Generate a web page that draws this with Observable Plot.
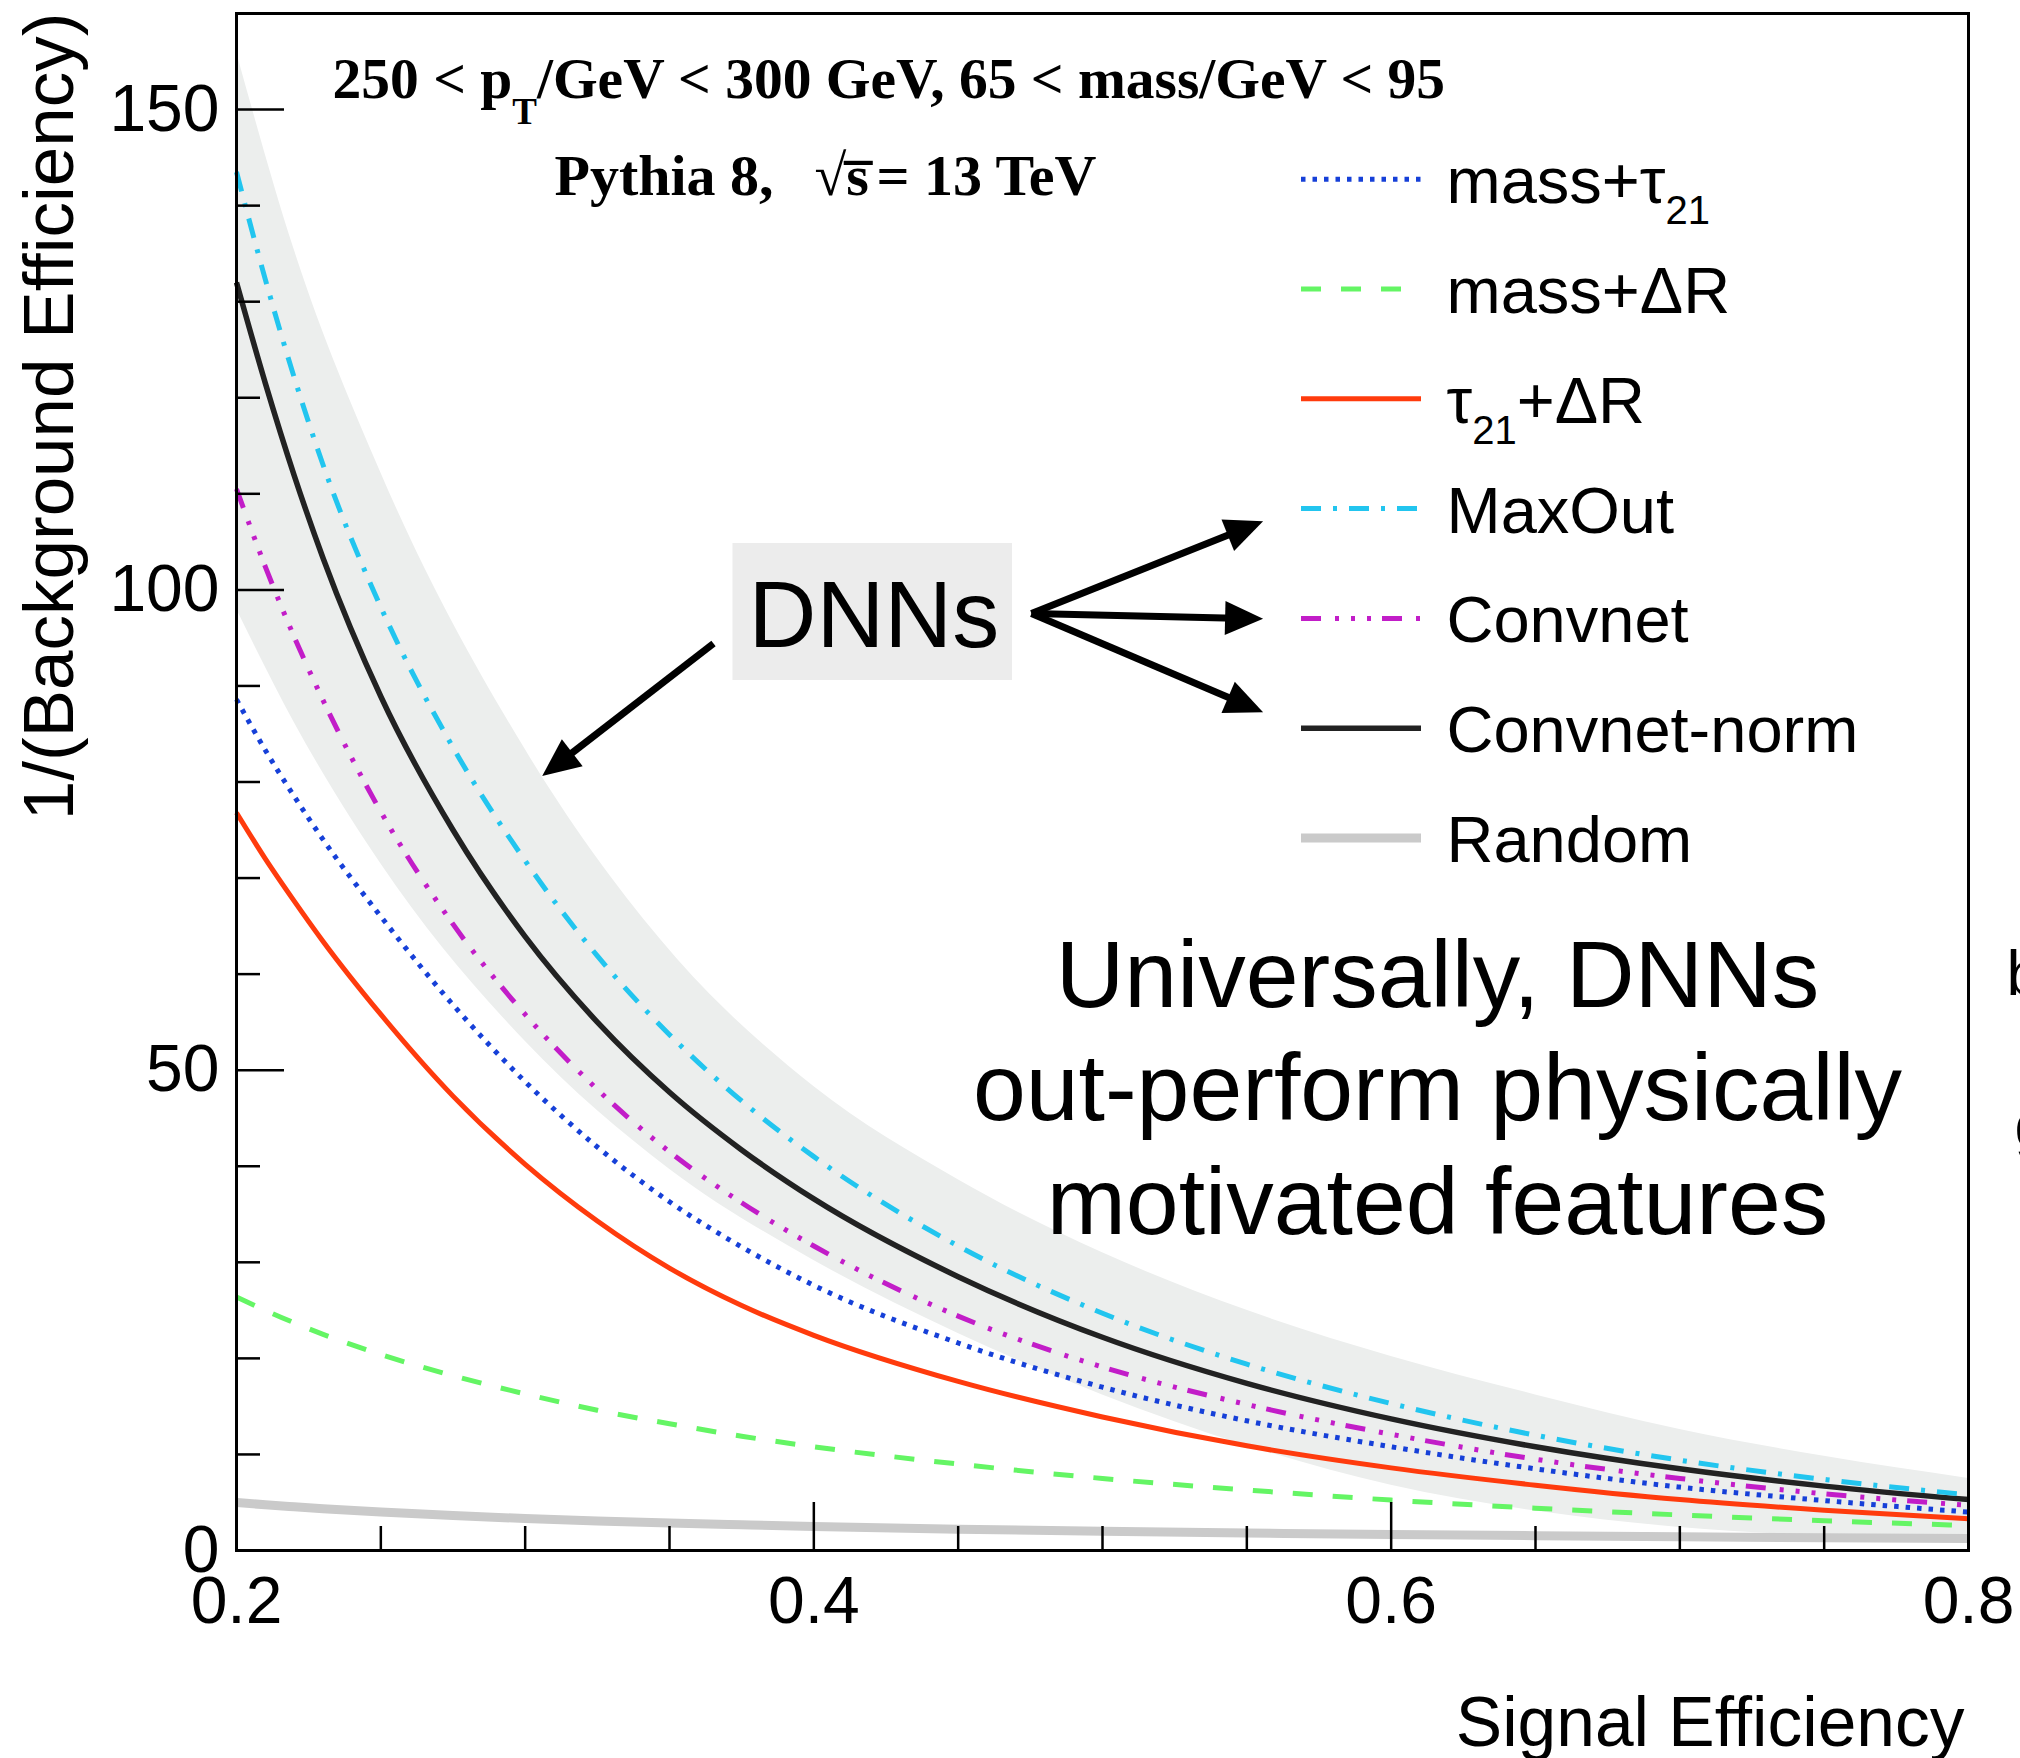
<!DOCTYPE html>
<html>
<head>
<meta charset="utf-8">
<script src="https://cdn.jsdelivr.net/npm/d3@7"></script>
<script src="https://cdn.jsdelivr.net/npm/@observablehq/plot@0.6"></script>
<style>
  html, body { margin: 0; padding: 0; background: #fff; }
  #chart svg { display: block; }
</style>
</head>
<body>
<div id="chart"></div>
<script>
// ---------------- DATA ----------------
const sigEff = [0.2, 0.21, 0.22, 0.23, 0.25, 0.275, 0.3, 0.325, 0.35, 0.375, 0.4, 0.45, 0.5, 0.55, 0.6, 0.65, 0.7, 0.75, 0.8];
const massTau21   = [88.6, 83.3, 78.5, 74.0, 66.0, 56.8, 48.8, 42.0, 36.3, 31.6, 27.6, 21.6, 17.0, 13.5, 10.8, 8.5, 6.6, 5.2, 4.0];
const massDeltaR  = [26.4, 25.0, 23.7, 22.5, 20.4, 18.2, 16.3, 14.6, 13.2, 11.9, 10.8, 9.0, 7.5, 6.3, 5.25, 4.4, 3.7, 3.1, 2.6];
const tau21DeltaR = [76.8, 72.0, 67.6, 63.4, 55.8, 47.3, 40.2, 34.3, 29.4, 25.5, 22.4, 17.6, 13.9, 10.9, 8.6, 6.8, 5.3, 4.2, 3.3];
const maxOut      = [143.5, 132.3, 122.1, 113.0, 98.2, 83.6, 71.8, 61.9, 53.7, 46.8, 41.0, 31.7, 24.7, 19.4, 15.3, 12.0, 9.4, 7.4, 5.8];
const convnet     = [110.5, 102.4, 95.1, 88.5, 76.9, 65.2, 55.8, 48.0, 41.5, 36.2, 31.7, 24.4, 19.1, 15.2, 12.1, 9.5, 7.5, 5.9, 4.7];
const convnetNorm = [132, 121.5, 111.9, 103.3, 88.9, 75.0, 63.9, 55.0, 47.7, 41.7, 36.6, 28.5, 22.2, 17.4, 13.7, 10.8, 8.5, 6.7, 5.3];
const randomTag   = [5.0, 4.76, 4.55, 4.35, 4.0, 3.64, 3.33, 3.08, 2.86, 2.67, 2.5, 2.22, 2.0, 1.82, 1.67, 1.54, 1.43, 1.33, 1.25];

// grey DNN band
const bandX    = [0.2, 0.22, 0.25, 0.3, 0.35, 0.4, 0.45, 0.5, 0.55, 0.6, 0.65, 0.7, 0.75, 0.8];
const bandHigh = [156, 135.4, 112.2, 83.4, 62.5, 48.3, 38.6, 31.0, 25.0, 20.2, 16.2, 12.6, 9.8, 7.5];
const bandLow  = [98, 86.2, 71.5, 53.0, 39.7, 30.2, 22.6, 16.2, 10.9, 6.8, 4.1, 2.4, 1.5, 1.0];

// ticks
const xMajorTicks = [0.2, 0.4, 0.6, 0.8];
const xMinorTicks = [0.25, 0.3, 0.35, 0.45, 0.5, 0.55, 0.65, 0.7, 0.75];
const yMajorTicks = [0, 50, 100, 150];
const yMinorTicks = [10, 20, 30, 40, 60, 70, 80, 90, 110, 120, 130, 140];
const xTickLabels = ["0.2", "0.4", "0.6", "0.8"];
const yTickLabels = ["0", "50", "100", "150"];

// series names ("_21" = subscript)
const seriesNames = ["mass+τ_21", "mass+ΔR", "τ_21+ΔR", "MaxOut", "Convnet", "Convnet-norm", "Random"];
const seriesValues = [massTau21, massDeltaR, tau21DeltaR, maxOut, convnet, convnetNorm, randomTag];

// texts
const xTitle = "Signal Efficiency";
const yTitle = "1/(Background Efficiency)";
const headerLine1 = ["250 < p", "T", "/GeV < 300 GeV, 65 < mass/GeV < 95"];
const headerLine2 = ["Pythia 8,", "√s\u0305", "= 13 TeV"];
const dnnLabel = "DNNs";
const message = "Universally, DNNs\nout-perform physically\nmotivated features";

// ---------------- STYLE / LAYOUT ----------------
const styles = [
  {stroke: "#1640d8", width: 5, dash: "4.5,7"},
  {stroke: "#64f564", width: 5, dash: "20,20"},
  {stroke: "#ff3b0d", width: 5, dash: null},
  {stroke: "#22c5ef", width: 5, dash: "20,12,4,12"},
  {stroke: "#c21dc8", width: 5, dash: "20,14,4,12,4,12,4,11"},
  {stroke: "#222222", width: 5.5, dash: null},
  {stroke: "#cacaca", width: 9, dash: null}
];
const drawOrder = [6, 1, 2, 0, 4, 5, 3];

const W = 2020, H = 1758;
const M = {left: 236, right: 52, top: 13, bottom: 208};
const innerW = W - M.left - M.right;
const innerH = H - M.top - M.bottom;
const xScale = Plot.scale({x: {domain: [0.2, 0.8], range: [M.left, W - M.right]}});
const yScale = Plot.scale({y: {domain: [0, 160], range: [H - M.bottom, M.top]}});

const SANS = "'Liberation Sans', Arial, Helvetica, sans-serif";
const SERIF = "'Liberation Serif', 'Times New Roman', serif";

const cv = document.createElement("canvas").getContext("2d");
function measure(t, size, weight, family) {
  cv.font = `${weight} ${size}px ${family}`;
  return cv.measureText(t).width;
}
// text pieces placed one after another at a pixel anchor (baseline); p.at forces a start x
function runs(parts, x0, base, family, weight) {
  let x = x0;
  const marks = [];
  for (const p of parts) {
    if (p.at != null) x = p.at;
    marks.push(Plot.text([p.text], {
      text: d => d, frameAnchor: "top-left",
      dx: x - M.left, dy: base + (p.shift || 0) - M.top,
      textAnchor: "start", lineAnchor: "bottom",
      fontSize: p.size, fontWeight: weight, fontFamily: family, fill: "black"
    }));
    x += measure(p.text, p.size, weight, family);
  }
  return marks;
}
function labelParts(name, size, subSize, subShift) {
  return name.split(/_(\d+)/).filter(s => s !== "").map(s => {
    const isSub = name.includes("_" + s) && /^\d+$/.test(s);
    return isSub ? {text: s, size: subSize, shift: subShift} : {text: s, size};
  });
}

// ---------------- MARKS ----------------
const bandRows = bandX.map((x, i) => ({x, lo: bandLow[i], hi: bandHigh[i]}));
const marks = [];

marks.push(Plot.areaY(bandRows, {x: "x", y1: "lo", y2: "hi", fill: "#eceeed", curve: "monotone-x"}));

for (const k of drawOrder) {
  const rows = sigEff.map((x, i) => ({x, y: seriesValues[k][i]}));
  const s = styles[k];
  marks.push(Plot.line(rows, {
    x: "x", y: "y", stroke: s.stroke, strokeWidth: s.width,
    strokeDasharray: s.dash, strokeLinecap: "butt", curve: "monotone-x"
  }));
}

// ticks (inside the frame)
marks.push(Plot.tickY(yMajorTicks, {y: d => d, insetRight: innerW - 48, stroke: "black", strokeWidth: 2.5}));
marks.push(Plot.tickY(yMinorTicks, {y: d => d, insetRight: innerW - 24, stroke: "black", strokeWidth: 2.5}));
marks.push(Plot.tickX(xMajorTicks, {x: d => d, insetTop: innerH - 48, stroke: "black", strokeWidth: 2.5}));
marks.push(Plot.tickX(xMinorTicks, {x: d => d, insetTop: innerH - 24, stroke: "black", strokeWidth: 2.5}));

// tick labels
marks.push(Plot.text(yMajorTicks, {y: d => d, text: (d, i) => yTickLabels[i], frameAnchor: "left", dx: -17,
  textAnchor: "end", fontSize: 66, fontFamily: SANS, fill: "black"}));
marks.push(Plot.text(xMajorTicks, {x: d => d, text: (d, i) => xTickLabels[i], frameAnchor: "bottom", dy: 72,
  lineAnchor: "bottom", fontSize: 66, fontFamily: SANS, fill: "black"}));

// axis titles
marks.push(Plot.text([xTitle], {text: d => d, frameAnchor: "bottom-right", dx: -4, dy: 1745 - (H - M.bottom),
  textAnchor: "end", lineAnchor: "bottom", fontSize: 69.5, fontFamily: SANS, fill: "black"}));
marks.push(Plot.text([yTitle], {text: d => d, frameAnchor: "top-left", dx: 72 - M.left, dy: 12 - M.top,
  rotate: -90, textAnchor: "end", lineAnchor: "bottom", fontSize: 71, fontFamily: SANS, fill: "black"}));

// header (bold Times)
marks.push(...runs([
  {text: headerLine1[0], size: 57.5},
  {text: headerLine1[1], size: 37, shift: 26},
  {text: headerLine1[2], size: 57.5}
], 332, 97, SERIF, "bold"));
marks.push(...runs([
  {text: headerLine2[0], size: 58},
  {text: headerLine2[1], size: 58, at: 814},
  {text: headerLine2[2], size: 58, at: 876}
], 554, 194, SERIF, "bold"));

// legend
const legendX1 = 1301, legendX2 = 1421, legendTextX = 1446, legendY0 = 178.7, legendStep = 109.8;
seriesNames.forEach((name, i) => {
  const ly = legendY0 + i * legendStep;
  const s = styles[i];
  marks.push(Plot.ruleY([yScale.invert(ly)], {
    y: d => d, x1: xScale.invert(legendX1), x2: xScale.invert(legendX2),
    stroke: s.stroke, strokeWidth: s.width, strokeDasharray: s.dash, strokeLinecap: "butt"
  }));
  marks.push(...runs(labelParts(name, 65, 40, 21), legendTextX, ly + 24, SANS, "normal"));
});

// DNNs box + label
marks.push(Plot.rect([0], {
  x1: xScale.invert(732.5), x2: xScale.invert(1012), y1: yScale.invert(680), y2: yScale.invert(543),
  fill: "#ececec"
}));
marks.push(Plot.text([dnnLabel], {text: d => d, frameAnchor: "top-left", dx: 748 - M.left, dy: 646 - M.top,
  textAnchor: "start", lineAnchor: "bottom", fontSize: 94, fontFamily: SANS, fill: "black"}));

// arrows (pixel layout -> data via the plot scales)
const arrowsPx = [
  {x1: 713, y1: 643, x2: 541.7, y2: 775.5},
  {x1: 1031, y1: 613, x2: 1262.6, y2: 520.7},
  {x1: 1031, y1: 613, x2: 1262.6, y2: 618.3},
  {x1: 1031, y1: 613, x2: 1262.6, y2: 711.7}
];
marks.push(Plot.arrow(arrowsPx, {
  x1: d => xScale.invert(d.x1), y1: d => yScale.invert(d.y1),
  x2: d => xScale.invert(d.x2), y2: d => yScale.invert(d.y2),
  stroke: "black", strokeWidth: 7, headLength: 0, insetEnd: 28, strokeLinecap: "butt"
}));
const triShape = {
  draw(context, l) {
    context.moveTo(-17, 0);
    context.lineTo(0, -l);
    context.lineTo(17, 0);
    context.closePath();
  }
};
marks.push(Plot.vector(arrowsPx, {
  x: d => xScale.invert(d.x2), y: d => yScale.invert(d.y2),
  rotate: d => Math.atan2(d.x2 - d.x1, -(d.y2 - d.y1)) * 180 / Math.PI,
  length: 38, anchor: "end", shape: triShape, fill: "black", stroke: "none"
}));

// message
marks.push(Plot.text([message], {text: d => d, frameAnchor: "top-left", dx: 1437 - M.left, dy: 1233 - M.top,
  textAnchor: "middle", lineAnchor: "bottom", lineHeight: 1.19, fontSize: 95, fontFamily: SANS, fill: "black"}));

// cut-off fragments at right edge
marks.push(Plot.text(["b"], {text: d => d, frameAnchor: "top-left", dx: 2006 - M.left, dy: 994 - M.top,
  textAnchor: "start", lineAnchor: "bottom", fontSize: 63, fontFamily: SANS, fill: "black"}));
marks.push(Plot.text(["g"], {text: d => d, frameAnchor: "top-left", dx: 2014 - M.left, dy: 1146 - M.top,
  textAnchor: "start", lineAnchor: "bottom", fontSize: 63, fontFamily: SANS, fill: "black"}));

marks.push(Plot.frame({stroke: "black", strokeWidth: 3}));

const chart = Plot.plot({
  width: W, height: H,
  marginLeft: M.left, marginRight: M.right, marginTop: M.top, marginBottom: M.bottom,
  x: {domain: [0.2, 0.8], axis: null},
  y: {domain: [0, 160], axis: null},
  style: {fontFamily: SANS, background: "white", overflow: "visible"},
  marks
});
document.getElementById("chart").appendChild(chart);
</script>
</body>
</html>
